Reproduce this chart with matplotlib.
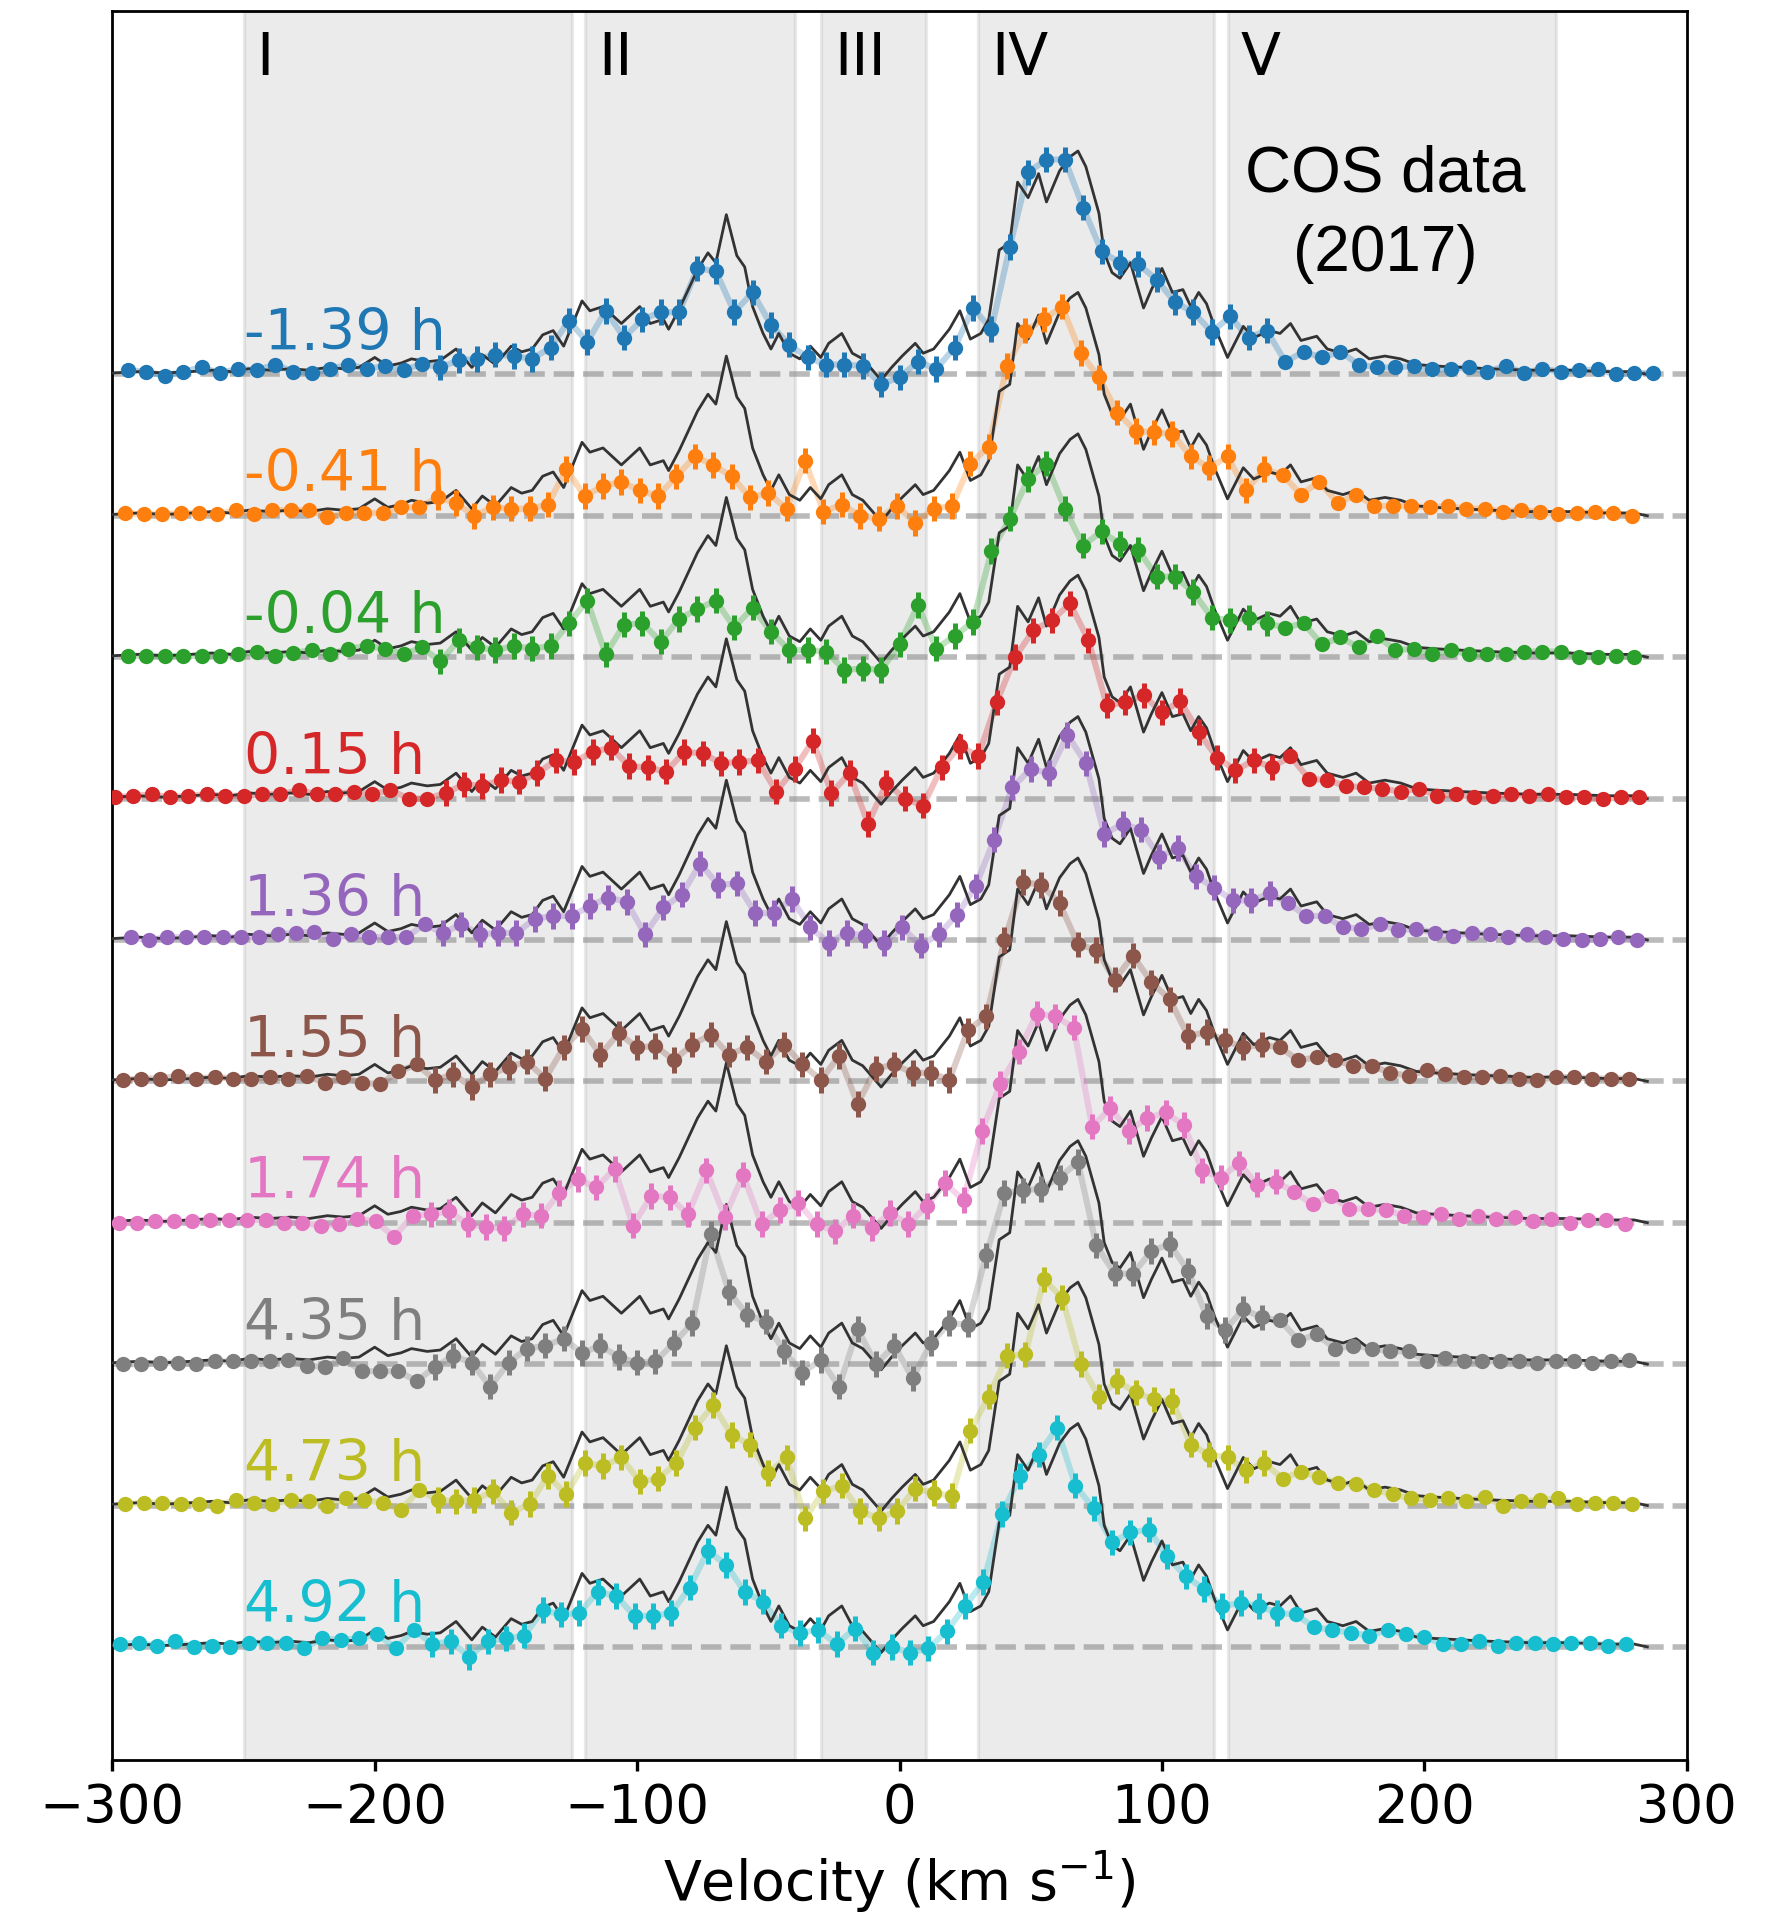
import numpy as np
import matplotlib
matplotlib.use('Agg')
import matplotlib.pyplot as plt

# COS (2017) template profile, same for every row
tmpl_v = [-300, -290, -280, -270, -262, -255, -248, -240, -232, -225, -218, -212,
          -206, -200, -195, -190, -186, -180, -175, -169, -163, -159, -154, -148,
          -144, -140, -136, -132, -128, -121, -118, -113, -106, -99, -95, -90,
          -88, -84, -81, -77, -73, -70, -66, -62, -59, -56, -52, -49, -46, -42,
          -38, -34, -30, -27, -22, -18, -14, -7, -3, 1, 6, 9, 13, 19, 23, 27,
          31, 34, 38, 42, 45, 49, 53, 56, 61, 65, 68, 71, 76, 78, 81, 84, 88,
          93, 96, 100, 104, 108, 111, 114, 117, 120, 125, 131, 135, 141, 145,
          149, 153, 159, 163, 169, 174, 179, 185, 191, 197, 204, 214, 225, 240,
          255, 270, 280, 285]
tmpl_f = [0.01, 0.02, 0.01, 0.02, 0.03, 0.02, 0.04, 0.03, 0.04, 0.03, 0.05, 0.04,
          0.05, 0.12, 0.06, 0.08, 0.11, 0.09, 0.10, 0.18, 0.05, 0.14, 0.07, 0.20,
          0.16, 0.18, 0.28, 0.31, 0.20, 0.52, 0.45, 0.48, 0.36, 0.48, 0.36, 0.39,
          0.32, 0.46, 0.58, 0.74, 0.86, 0.79, 1.13, 0.84, 0.76, 0.48, 0.29, 0.18,
          0.29, 0.15, 0.11, 0.20, 0.12, 0.22, 0.29, 0.15, 0.11, -0.04, 0.05, 0.13,
          0.22, 0.15, 0.18, 0.32, 0.45, 0.25, 0.29, 0.39, 0.88, 0.93, 1.36, 1.25,
          1.42, 1.22, 1.44, 1.54, 1.58, 1.47, 1.14, 0.86, 0.72, 0.68, 0.79, 0.47,
          0.60, 0.75, 0.58, 0.60, 0.48, 0.58, 0.50, 0.34, 0.12, 0.34, 0.26, 0.31,
          0.29, 0.36, 0.24, 0.27, 0.18, 0.15, 0.18, 0.11, 0.13, 0.11, 0.07, 0.06,
          0.05, 0.04, 0.03, 0.03, 0.02, 0.02, 0.00]

# binned spectra (7 km/s bins), top row first
labels = ['-1.39 h', '-0.41 h', '-0.04 h', '0.15 h', '1.36 h',
          '1.55 h', '1.74 h', '4.35 h', '4.73 h', '4.92 h']
colors = ['tab:blue', 'tab:orange', 'tab:green', 'tab:red', 'tab:purple',
          'tab:brown', 'tab:pink', 'tab:gray', 'tab:olive', 'tab:cyan']
v_start = [-294, -295, -294, -299, -293, -296, -297.6, -296, -295, -297]
bin_width = 7.0

f_m139 = [0.03, 0.02, -0.01, 0.02, 0.05, 0.01, 0.04, 0.03, 0.07, 0.02, 0.01, 0.04,
          0.07, 0.04, 0.06, 0.03, 0.075, 0.05, 0.10, 0.11, 0.14, 0.13, 0.11, 0.19,
          0.38, 0.23, 0.45, 0.26, 0.39, 0.44, 0.44, 0.75, 0.73, 0.44, 0.58, 0.35,
          0.21, 0.12, 0.07, 0.07, 0.06, -0.07, -0.02,
          0.09, 0.04, 0.19, 0.47, 0.32, 0.90, 1.43, 1.52, 1.52, 1.18, 0.87, 0.79,
          0.78, 0.67, 0.51, 0.44, 0.30, 0.41, 0.26, 0.31, 0.09, 0.16, 0.12, 0.16,
          0.07, 0.05, 0.05, 0.06, 0.035, 0.04, 0.05, 0.02, 0.06, 0.01, 0.04, 0.02,
          0.03, 0.035, 0.0, 0.01, 0.01]
f_m041 = [0.02, 0.01, 0.01, 0.02, 0.02, 0.01, 0.04, 0.01, 0.04, 0.04, 0.04, -0.01,
          0.02, 0.02, 0.02, 0.06, 0.06, 0.13, 0.09, 0.0, 0.06, 0.05, 0.05, 0.08,
          0.33, 0.14, 0.21, 0.24, 0.18, 0.14, 0.28, 0.42, 0.36, 0.28, 0.13, 0.16,
          0.05, 0.39, 0.03, 0.08, 0.0, -0.02, 0.07,
          -0.05, 0.05, 0.07, 0.37, 0.49, 1.06, 1.31, 1.39, 1.48, 1.15, 0.98, 0.73,
          0.60, 0.59, 0.58, 0.42, 0.34, 0.42, 0.18, 0.33, 0.29, 0.15, 0.24, 0.09,
          0.15, 0.07, 0.07, 0.07, 0.06, 0.07, 0.05, 0.05, 0.03, 0.04, 0.03, 0.01,
          0.02, 0.03, 0.02, 0.0]
f_m004 = [0.01, 0.01, 0.01, 0.01, 0.01, 0.01, 0.02, 0.04, 0.01, 0.03, 0.05, 0.02,
          0.06, 0.08, 0.06, 0.02, 0.07, -0.03, 0.12, 0.07, 0.05, 0.08, 0.06, 0.08,
          0.24, 0.40, 0.02, 0.23, 0.24, 0.11, 0.27, 0.34, 0.40, 0.21, 0.35, 0.18,
          0.05, 0.05, 0.04, -0.09, -0.08, -0.09, 0.09,
          0.37, 0.06, 0.15, 0.25, 0.75, 0.98, 1.26, 1.37, 1.05, 0.79, 0.89, 0.80,
          0.76, 0.57, 0.57, 0.46, 0.28, 0.26, 0.28, 0.24, 0.21, 0.24, 0.09, 0.14,
          0.07, 0.15, 0.05, 0.06, 0.02, 0.05, 0.02, 0.02, 0.02, 0.04, 0.04, 0.04,
          0.0, 0.0, 0.01, 0.0]
f_p015 = [0.01, 0.02, 0.03, 0.01, 0.02, 0.03, 0.02, 0.02, 0.03, 0.03, 0.06, 0.03,
          0.03, 0.05, 0.03, 0.06, 0.0, 0.0, 0.04, 0.10, 0.09, 0.13, 0.12, 0.18,
          0.27, 0.26, 0.33, 0.36, 0.23, 0.22, 0.19, 0.33, 0.32, 0.25, 0.26, 0.27,
          0.05, 0.21, 0.41, 0.04, 0.18, -0.18, 0.11,
          0.0, -0.05, 0.22, 0.37, 0.30, 0.68, 1.00, 1.19, 1.26, 1.38, 1.12, 0.66,
          0.68, 0.73, 0.61, 0.69, 0.47, 0.29, 0.20, 0.27, 0.22, 0.30, 0.14, 0.13,
          0.09, 0.08, 0.07, 0.05, 0.07, 0.02, 0.03, 0.01, 0.02, 0.03, 0.02, 0.03,
          0.01, 0.01, 0.0, 0.01, 0.01]
f_p136 = [0.02, 0.0, 0.02, 0.02, 0.02, 0.02, 0.02, 0.02, 0.04, 0.05, 0.06, 0.01,
          0.04, 0.02, 0.02, 0.02, 0.11, 0.05, 0.11, 0.04, 0.05, 0.05, 0.15, 0.17,
          0.17, 0.24, 0.30, 0.27, 0.04, 0.23, 0.32, 0.54, 0.39, 0.40, 0.19, 0.19,
          0.29, 0.09, -0.02, 0.05, 0.03, -0.02,
          0.09, -0.04, 0.04, 0.18, 0.38, 0.71, 1.08, 1.21, 1.18, 1.45, 1.25, 0.75,
          0.82, 0.78, 0.59, 0.65, 0.45, 0.37, 0.28, 0.28, 0.33, 0.26, 0.17, 0.17,
          0.09, 0.08, 0.11, 0.07, 0.08, 0.05, 0.03, 0.05, 0.04, 0.02, 0.04, 0.02,
          0.01, 0.0, 0.01, 0.02, 0.0]
f_p155 = [0.01, 0.02, 0.02, 0.04, 0.02, 0.03, 0.02, 0.02, 0.03, 0.02, 0.04, -0.01,
          0.03, -0.01, -0.02, 0.07, 0.12, 0.01, 0.05, -0.04, 0.05, 0.10, 0.14, 0.02,
          0.24, 0.37, 0.19, 0.34, 0.24, 0.25, 0.15, 0.26, 0.33, 0.19, 0.24, 0.14,
          0.26, 0.12, 0.01, 0.18, -0.16, 0.09, 0.12,
          0.06, 0.06, 0.01, 0.36, 0.46, 1.00, 1.41, 1.39, 1.26, 0.97, 0.93, 0.72,
          0.89, 0.70, 0.58, 0.32, 0.35, 0.29, 0.24, 0.26, 0.24, 0.15, 0.17, 0.15,
          0.11, 0.11, 0.06, 0.04, 0.08, 0.05, 0.03, 0.03, 0.04, 0.02, 0.01, 0.03,
          0.03, 0.02, 0.02, 0.02]
f_p174 = [0.0, 0.0, 0.01, 0.01, 0.01, 0.02, 0.02, 0.02, 0.02, 0.0, 0.0, -0.02,
          -0.01, 0.03, 0.01, -0.10, 0.05, 0.06, 0.08, -0.01, -0.03, -0.04, 0.06, 0.05,
          0.21, 0.31, 0.25, 0.38, -0.02, 0.19, 0.18, 0.06, 0.37, 0.04, 0.34, -0.01,
          0.09, 0.14, -0.01, -0.06, 0.05, -0.04, 0.07,
          -0.01, 0.12, 0.28, 0.16, 0.65, 0.98, 1.21, 1.48, 1.46, 1.38, 0.68, 0.81,
          0.65, 0.74, 0.78, 0.69, 0.37, 0.32, 0.42, 0.27, 0.29, 0.22, 0.13, 0.19,
          0.10, 0.10, 0.09, 0.05, 0.04, 0.06, 0.03, 0.05, 0.03, 0.04, 0.01, 0.03,
          0.0, 0.02, 0.02, -0.01]
f_p435 = [0.0, 0.0, 0.01, 0.01, 0.0, 0.02, 0.02, 0.02, 0.02, 0.03, -0.01, -0.02,
          0.04, -0.05, -0.05, -0.05, -0.12, -0.02, 0.06, 0.01, -0.16, 0.01, 0.11, 0.13,
          0.18, 0.08, 0.13, 0.05, 0.01, 0.02, 0.15, 0.29, 0.92, 0.51, 0.35, 0.30,
          0.09, -0.06, 0.03, -0.16, 0.25, 0.0, 0.13,
          -0.10, 0.15, 0.29, 0.28, 0.77, 1.21, 1.23, 1.24, 1.32, 1.43, 0.84, 0.64,
          0.64, 0.80, 0.85, 0.66, 0.34, 0.24, 0.39, 0.33, 0.31, 0.17, 0.21, 0.11,
          0.13, 0.11, 0.09, 0.09, 0.02, 0.04, 0.02, 0.02, 0.02, 0.02, 0.01, 0.02,
          0.02, 0.01, 0.02, 0.03]
f_p473 = [0.01, 0.02, 0.02, 0.01, 0.01, 0.0, 0.04, 0.02, 0.01, 0.04, 0.03, 0.0,
          0.05, 0.04, 0.02, -0.03, 0.11, 0.04, 0.03, 0.04, 0.10, -0.05, 0.01, 0.21,
          0.08, 0.30, 0.28, 0.34, 0.17, 0.19, 0.30, 0.55, 0.71, 0.50, 0.43, 0.23,
          0.34, -0.09, 0.10, 0.14, -0.04, -0.09, -0.04,
          0.12, 0.09, 0.07, 0.53, 0.77, 1.06, 1.07, 1.60, 1.47, 1.00, 0.77, 0.88,
          0.80, 0.75, 0.74, 0.43, 0.36, 0.34, 0.25, 0.30, 0.19, 0.24, 0.20, 0.16,
          0.15, 0.11, 0.08, 0.05, 0.04, 0.05, 0.03, 0.06, 0.0, 0.03, 0.04, 0.05,
          0.01, 0.02, 0.02, 0.01]
f_p492 = [0.02, 0.03, 0.01, 0.04, 0.0, 0.01, 0.0, 0.03, 0.03, 0.03, -0.01, 0.06,
          0.05, 0.06, 0.09, -0.01, 0.12, 0.02, 0.04, -0.07, 0.04, 0.06, 0.08, 0.26,
          0.23, 0.24, 0.39, 0.36, 0.22, 0.22, 0.24, 0.42, 0.68, 0.58, 0.39, 0.32,
          0.15, 0.10, 0.12, 0.02, 0.13, -0.04, 0.0,
          -0.04, -0.01, 0.11, 0.29, 0.46, 0.94, 1.21, 1.36, 1.55, 1.14, 0.98, 0.74,
          0.81, 0.83, 0.64, 0.50, 0.41, 0.29, 0.31, 0.29, 0.24, 0.23, 0.14, 0.12,
          0.10, 0.08, 0.12, 0.09, 0.07, 0.02, 0.02, 0.04, 0.01, 0.03, 0.03, 0.02,
          0.03, 0.03, 0.01, 0.02]
fluxes = [f_m139, f_m041, f_m004, f_p015, f_p136,
          f_p155, f_p174, f_p435, f_p473, f_p492]

# emission regions I-V
regions = [(-250, -125, 'I'), (-120, -40, 'II'), (-30, 10, 'III'),
           (30, 120, 'IV'), (125, 250, 'V')]
err_core = 0.09
core_range = (-180, 145)

fig = plt.figure(figsize=(1783 / 200, 1915 / 200), dpi=200)
ax = fig.add_axes([0.063, 0.0804, 0.883, 0.9133])

for lo, hi, name in regions:
    ax.axvspan(lo, hi, color='0.55', alpha=0.17, lw=1.2, zorder=0)
    ax.text(lo + 5, 11.24, name, fontsize=21, ha='left', va='center')

n = len(fluxes)
for k, (lab, c, v0, fl) in enumerate(zip(labels, colors, v_start, fluxes)):
    off = n - 1 - k
    fl = np.asarray(fl)
    v = v0 + bin_width * np.arange(len(fl))
    err = np.where((v > core_range[0]) & (v < core_range[1]), err_core, 0.0)
    ax.axhline(off, color='0.55', ls='--', lw=2.0, alpha=0.6, zorder=1)
    ax.plot(v, fl + off, color=c, alpha=0.3, lw=2.2, zorder=2)
    ax.plot(tmpl_v, np.asarray(tmpl_f) + off, color='0.2', lw=1.0, zorder=3)
    ax.errorbar(v, fl + off, yerr=err, fmt='o', ms=4.5, color=c,
                elinewidth=1.8, capsize=0, zorder=4)
    ax.text(-250, off + 0.18, lab, color=c, fontsize=20.5, ha='left', va='baseline')

ax.text(185, 10.14, 'COS data\n(2017)', fontsize=23, ha='center', va='center',
        family='Liberation Sans', linespacing=1.4)

ax.set_xlim(-300, 300)
ax.set_ylim(-0.80, 11.57)
ax.set_yticks([])
ax.set_xticks([-300, -200, -100, 0, 100, 200, 300])
ax.tick_params(axis='x', labelsize=19, length=4, width=1.2)
for sp in ax.spines.values():
    sp.set_linewidth(1.0)
ax.set_xlabel('Velocity (km s$^{-1}$)', fontsize=20, labelpad=5)

fig.savefig('out.png', dpi=200)
